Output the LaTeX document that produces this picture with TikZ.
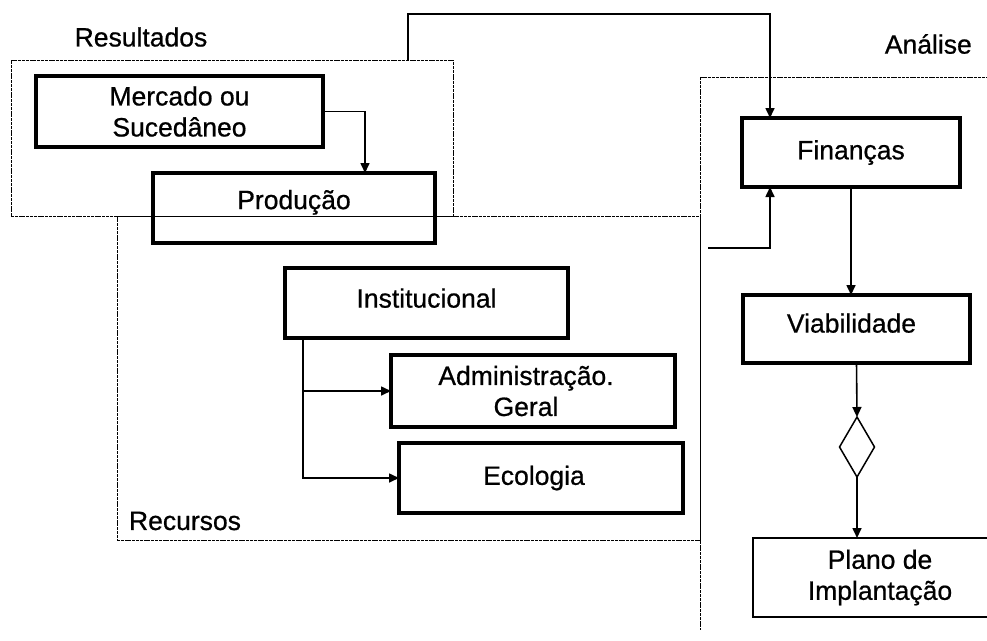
\documentclass[tikz,border=0pt]{standalone}
\usepackage{fontspec}
\setmainfont{Liberation Sans}[FakeBold=0.7]
\newfontfamily\scanfont{Liberation Sans}[FakeBold=0.7]
\usetikzlibrary{arrows.meta,shapes.geometric,calc}

\tikzset{
  label font/.style={font=\scanfont\fontsize{26.5}{31}\selectfont},
  block/.style={draw, line width=3.3pt, inner sep=0pt, outer sep=0pt,
    align=center, label font},
  plainbox/.style={draw, line width=1.3pt, inner sep=0pt, outer sep=0pt,
    align=center, label font},
  group/.style={draw, line width=1pt, dash pattern=on 3pt off 0.8pt,
    inner sep=0pt, outer sep=0pt},
  grouplabel/.style={label font, inner sep=0pt},
  decision/.style={draw, diamond, line width=1.5pt, inner sep=0pt,
    outer sep=0pt, minimum width=35pt, minimum height=60pt, aspect=0.58},
  arr/.style={line width=1.6pt, -{Triangle[length=10pt,width=9pt]}},
  link/.style={line width=1.6pt}
}

\begin{document}
\begin{tikzpicture}[x=1pt, y=-1pt]
  \useasboundingbox (0,0) rectangle (987,640);
  \clip (0,0) rectangle (987,640);

  % grouping frames
  \node[group, minimum width=442pt, minimum height=156pt] (res) at (232,138) {};
  \node[group, minimum width=583pt, minimum height=324pt] (rec) at (408.5,378) {};
  \draw[group] (1000,77) -- (700,77) -- (700,630);

  \node[grouplabel] (lres) at (141,37) {Resultados};
  \node[grouplabel] (lrec) at (185,521) {Recursos};
  \node[grouplabel, anchor=east] (lana) at (972,44) {Análise};

  % boxes
  \node[block, minimum width=287pt, minimum height=71pt] (merc) at (179.5,111.5)
    {Mercado ou\\Sucedâneo};
  \node[block, minimum width=282pt, minimum height=70pt, text depth=17pt] (prod) at (294,208)
    {Produção};
  \node[block, minimum width=283pt, minimum height=70pt, text depth=10pt] (inst) at (426.5,303)
    {Institucional};
  \node[block, minimum width=284pt, minimum height=72pt] (adm) at (533,391)
    {Administração.\hspace*{14pt}\\Geral\hspace*{14pt}};
  \node[block, minimum width=284pt, minimum height=70pt] (eco) at (541,478)
    {Ecologia\hspace*{14pt}};
  \node[block, minimum width=218pt, minimum height=69pt] (fin) at (851,152.5)
    {Finanças};
  \node[block, minimum width=227pt, minimum height=68pt, text depth=12pt] (viab) at (856.5,329)
    {Viabilidade\hspace*{10pt}};
  \node[decision] (dia) at (857,447) {};
  \node[plainbox, minimum width=254pt, minimum height=79pt] (plano) at (880,577.5)
    {Plano de\\Implantação};

  % connectors
  \draw[arr] (merc.east) -| ($(prod.north)+(71,0)$);

  \coordinate (up) at (408,60);
  \coordinate (over) at (770,14);
  \draw[arr] (up) |- (over) -- (over |- fin.north);

  \coordinate (feed) at (708,248);
  \draw[arr] (feed) -| (over |- fin.south);

  \draw[arr] (fin.south) -- (fin.south |- viab.north);
  \draw[arr] (viab.south) -- (dia.north);
  \draw[arr] (dia.south) -- (dia.south |- plano.north);

  \coordinate (split) at (303,338);
  \draw[link] (split) -- (split |- eco.west);
  \draw[arr] (split) |- (adm.west);
  \draw[arr] (split) |- (eco.west);
\end{tikzpicture}
\end{document}
